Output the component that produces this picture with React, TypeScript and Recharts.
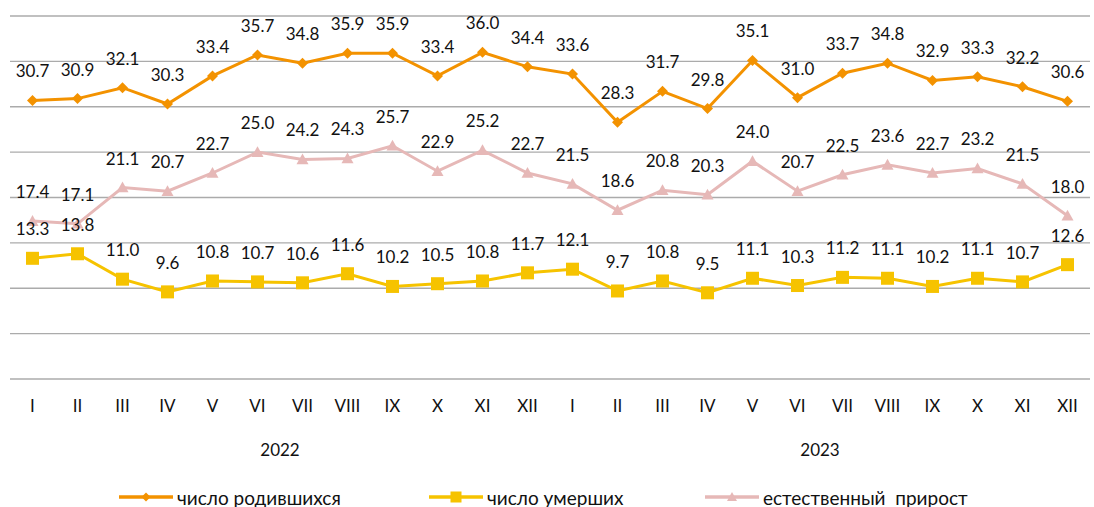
import React from 'react';
import { LineChart, Line, XAxis, YAxis, CartesianGrid, LabelList, Legend } from 'recharts';

const months = ['I', 'II', 'III', 'IV', 'V', 'VI', 'VII', 'VIII', 'IX', 'X', 'XI', 'XII'];
const years = ['2022', '2023'];

const births = [30.7, 30.9, 32.1, 30.3, 33.4, 35.7, 34.8, 35.9, 35.9, 33.4, 36.0, 34.4,
  33.6, 28.3, 31.7, 29.8, 35.1, 31.0, 33.7, 34.8, 32.9, 33.3, 32.2, 30.6];
const deaths = [13.3, 13.8, 11.0, 9.6, 10.8, 10.7, 10.6, 11.6, 10.2, 10.5, 10.8, 11.7,
  12.1, 9.7, 10.8, 9.5, 11.1, 10.3, 11.2, 11.1, 10.2, 11.1, 10.7, 12.6];
const natural = [17.4, 17.1, 21.1, 20.7, 22.7, 25.0, 24.2, 24.3, 25.7, 22.9, 25.2, 22.7,
  21.5, 18.6, 20.8, 20.3, 24.0, 20.7, 22.5, 23.6, 22.7, 23.2, 21.5, 18.0];

const yTicks = [0, 5, 10, 15, 20, 25, 30, 35, 40];

const seriesNames = ['число родившихся', 'число умерших', 'естественный  прирост'];

const ORANGE = '#F39200';
const YELLOW = '#F6C300';
const PINK = '#E6B8B7';

const data = years.flatMap((yr, yi) =>
  months.map((m, mi) => {
    const i = yi * 12 + mi;
    return { key: `${yr}-${m}`, month: m, year: yr, births: births[i], deaths: deaths[i], natural: natural[i] };
  })
);

const Diamond = (p: any) => {
  const { cx, cy, fill, s = 5.5 } = p;
  if (cx == null || cy == null) return null;
  return <polygon points={`${cx},${cy - s} ${cx + s},${cy} ${cx},${cy + s} ${cx - s},${cy}`} fill={fill} />;
};

const Square = (p: any) => {
  const { cx, cy, fill, s = 6.5 } = p;
  if (cx == null || cy == null) return null;
  return <rect x={cx - s} y={cy - s} width={s * 2} height={s * 2} fill={fill} />;
};

const Triangle = (p: any) => {
  const { cx, cy, fill, s = 6 } = p;
  if (cx == null || cy == null) return null;
  return <polygon points={`${cx},${cy - s} ${cx + s},${cy + s * 0.8} ${cx - s},${cy + s * 0.8}`} fill={fill} />;
};

// legend items sit at fixed left offsets, like the source
const legendLefts = [119, 429, 705];

const LegendContent = () => {
  const items = [
    { name: seriesNames[0], color: ORANGE, Icon: Diamond, s: 4.5 },
    { name: seriesNames[1], color: YELLOW, Icon: Square, s: 5.5 },
    { name: seriesNames[2], color: PINK, Icon: Triangle, s: 5 },
  ];
  return (
    <div style={{ position: 'relative', height: 24, fontFamily: 'Lato', fontSize: 19, color: '#111' }}>
      {items.map(({ name, color, Icon, s }, i) => (
        <div
          key={i}
          style={{ position: 'absolute', left: legendLefts[i], top: 0, display: 'flex', alignItems: 'center', height: 24 }}
        >
          <svg width={54} height={14} style={{ marginRight: 4 }}>
            <line x1={0} y1={7} x2={54} y2={7} stroke={color} strokeWidth={3.5} />
            <Icon cx={27} cy={7} fill={color} s={s} />
          </svg>
          <span style={{ whiteSpace: 'pre' }}>{name}</span>
        </div>
      ))}
    </div>
  );
};

const YearTick = ({ x, y, payload }: any) => (
  <text x={x} y={y} dy={13} textAnchor="middle" fill="#111" fontSize={17}>
    {payload.value}
  </text>
);

export default function App() {
  return (
    <div style={{ position: 'absolute', left: 0, top: 0, background: '#fff' }}>
      <LineChart
        width={1094}
        height={507}
        data={data}
        margin={{ top: 16, right: 4, left: 10, bottom: 38 }}
        style={{ fontFamily: 'Lato' }}
      >
        <CartesianGrid vertical={false} stroke="#ABABAB" strokeWidth={1.3} />
        <XAxis
          dataKey="key"
          scale="band"
          tickFormatter={(v: string) => v.split('-')[1]}
          axisLine={false}
          tickLine={false}
          tickSize={0}
          tickMargin={21}
          height={40}
          interval={0}
          tick={{ fill: '#111', fontSize: 17 }}
        />
        <XAxis
          xAxisId="year"
          dataKey="year"
          scale="band"
          allowDuplicatedCategory={false}
          ticks={years}
          axisLine={false}
          tickLine={false}
          tickSize={0}
          tickMargin={24}
          height={50}
          tick={<YearTick />}
        />
        <YAxis hide domain={[0, 40]} ticks={yTicks} />
        <Legend
          layout="horizontal"
          verticalAlign="middle"
          align="center"
          wrapperStyle={{ top: 485, left: 0, width: 1094, height: 24 }}
          content={<LegendContent />}
        />
        <Line
          dataKey="births"
          name={seriesNames[0]}
          stroke={ORANGE}
          strokeWidth={3}
          isAnimationActive={false}
          dot={(p: any) => <Diamond key={p.index} cx={p.cx} cy={p.cy} fill={ORANGE} />}
          activeDot={false}
        >
          <LabelList dataKey="births" position="top" offset={23} fill="#111" fontSize={17} formatter={(v: number) => v.toFixed(1)} />
        </Line>
        <Line
          dataKey="deaths"
          name={seriesNames[1]}
          stroke={YELLOW}
          strokeWidth={3}
          isAnimationActive={false}
          dot={(p: any) => <Square key={p.index} cx={p.cx} cy={p.cy} fill={YELLOW} />}
          activeDot={false}
        >
          <LabelList dataKey="deaths" position="top" offset={23} fill="#111" fontSize={17} formatter={(v: number) => v.toFixed(1)} />
        </Line>
        <Line
          dataKey="natural"
          name={seriesNames[2]}
          stroke={PINK}
          strokeWidth={3}
          isAnimationActive={false}
          dot={(p: any) => <Triangle key={p.index} cx={p.cx} cy={p.cy} fill={PINK} />}
          activeDot={false}
        >
          <LabelList dataKey="natural" position="top" offset={23} fill="#111" fontSize={17} formatter={(v: number) => v.toFixed(1)} />
        </Line>
      </LineChart>
    </div>
  );
}
